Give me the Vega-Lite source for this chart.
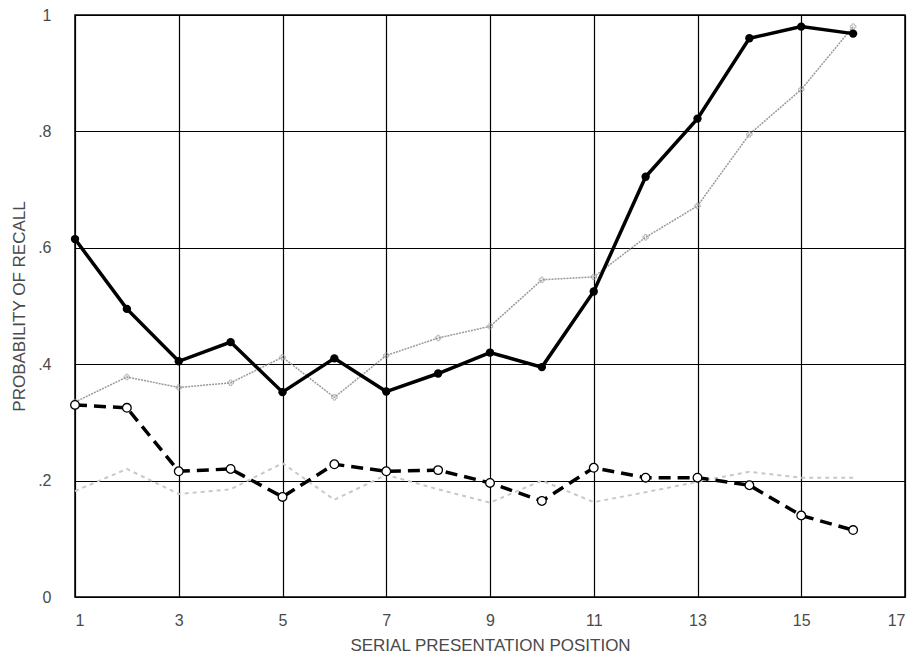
{
  "$schema": "https://vega.github.io/schema/vega-lite/v6.json",
  "width": 830,
  "height": 582,
  "autosize": "none",
  "padding": {"left": 75, "top": 15, "right": 16, "bottom": 67},
  "background": "white",
  "config": {
    "view": {"stroke": "black", "strokeWidth": 1.5},
    "axis": {
      "grid": true, "gridColor": "black", "gridOpacity": 1, "gridWidth": 1.2,
      "domain": false, "ticks": false,
      "labelFont": "Liberation Sans", "labelFontSize": 16, "labelColor": "#4a4a4a",
      "titleFont": "Liberation Sans", "titleFontSize": 17, "titleFontWeight": "normal", "titleColor": "#4a4a4a"
    }
  },
  "data": {"values": [
    {"pos":1,"s":"A","p":0.615},{"pos":2,"s":"A","p":0.495},{"pos":3,"s":"A","p":0.405},{"pos":4,"s":"A","p":0.438},
    {"pos":5,"s":"A","p":0.352},{"pos":6,"s":"A","p":0.41},{"pos":7,"s":"A","p":0.353},{"pos":8,"s":"A","p":0.384},
    {"pos":9,"s":"A","p":0.42},{"pos":10,"s":"A","p":0.395},{"pos":11,"s":"A","p":0.525},{"pos":12,"s":"A","p":0.722},
    {"pos":13,"s":"A","p":0.822},{"pos":14,"s":"A","p":0.96},{"pos":15,"s":"A","p":0.98},{"pos":16,"s":"A","p":0.968},
    {"pos":1,"s":"B","p":0.33},{"pos":2,"s":"B","p":0.325},{"pos":3,"s":"B","p":0.216},{"pos":4,"s":"B","p":0.22},
    {"pos":5,"s":"B","p":0.172},{"pos":6,"s":"B","p":0.228},{"pos":7,"s":"B","p":0.216},{"pos":8,"s":"B","p":0.218},
    {"pos":9,"s":"B","p":0.196},{"pos":10,"s":"B","p":0.165},{"pos":11,"s":"B","p":0.222},{"pos":12,"s":"B","p":0.205},
    {"pos":13,"s":"B","p":0.205},{"pos":14,"s":"B","p":0.192},{"pos":15,"s":"B","p":0.14},{"pos":16,"s":"B","p":0.115},
    {"pos":1,"s":"C","p":0.335},{"pos":2,"s":"C","p":0.378},{"pos":3,"s":"C","p":0.36},{"pos":4,"s":"C","p":0.368},
    {"pos":5,"s":"C","p":0.412},{"pos":6,"s":"C","p":0.343},{"pos":7,"s":"C","p":0.415},{"pos":8,"s":"C","p":0.445},
    {"pos":9,"s":"C","p":0.465},{"pos":10,"s":"C","p":0.545},{"pos":11,"s":"C","p":0.55},{"pos":12,"s":"C","p":0.618},
    {"pos":13,"s":"C","p":0.672},{"pos":14,"s":"C","p":0.795},{"pos":15,"s":"C","p":0.872},{"pos":16,"s":"C","p":0.98},
    {"pos":1,"s":"D","p":0.182},{"pos":2,"s":"D","p":0.22},{"pos":3,"s":"D","p":0.177},{"pos":4,"s":"D","p":0.185},
    {"pos":5,"s":"D","p":0.23},{"pos":6,"s":"D","p":0.167},{"pos":7,"s":"D","p":0.21},{"pos":8,"s":"D","p":0.185},
    {"pos":9,"s":"D","p":0.162},{"pos":10,"s":"D","p":0.2},{"pos":11,"s":"D","p":0.163},{"pos":12,"s":"D","p":0.18},
    {"pos":13,"s":"D","p":0.198},{"pos":14,"s":"D","p":0.215},{"pos":15,"s":"D","p":0.205},{"pos":16,"s":"D","p":0.205}
  ]},
  "encoding": {
    "x": {"field": "pos", "type": "quantitative",
      "scale": {"domain": [1, 17], "nice": false, "zero": false},
      "axis": {"values": [1,3,5,7,9,11,13,15,17], "labelPadding": 15, "title": "SERIAL PRESENTATION POSITION", "titlePadding": 9}},
    "y": {"field": "p", "type": "quantitative",
      "scale": {"domain": [0, 1], "nice": false},
      "axis": {"values": [0,0.2,0.4,0.6,0.8,1], "labelPadding": 24, "title": "PROBABILITY OF RECALL", "titlePadding": 9,
        "labelExpr": "datum.value == 0 ? '0' : datum.value == 1 ? '1' : replace(format(datum.value, '.1f'), '0.', '.')"}}
  },
  "layer": [
    {"transform": [{"filter": "datum.s == 'D'"}],
     "mark": {"type": "line", "color": "#c8c8c8", "strokeWidth": 2, "strokeDash": [4, 4]}},
    {"transform": [{"filter": "datum.s == 'C'"}],
     "mark": {"type": "line", "color": "#9a9a9a", "strokeWidth": 1.5, "strokeDash": [2, 1]}},
    {"transform": [{"filter": "datum.s == 'C'"}],
     "mark": {"type": "point", "shape": "cross", "size": 30, "color": "#999", "filled": false, "strokeWidth": 1}},
    {"transform": [{"filter": "datum.s == 'A'"}],
     "mark": {"type": "line", "color": "black", "strokeWidth": 3.5}},
    {"transform": [{"filter": "datum.s == 'A'"}],
     "mark": {"type": "point", "filled": true, "color": "black", "size": 70, "opacity": 1}},
    {"transform": [{"filter": "datum.s == 'B'"}],
     "mark": {"type": "line", "color": "black", "strokeWidth": 3.5, "strokeDash": [12, 7]}},
    {"transform": [{"filter": "datum.s == 'B'"}],
     "mark": {"type": "point", "filled": false, "fill": "white", "fillOpacity": 1, "stroke": "black", "strokeWidth": 1.3, "size": 75, "opacity": 1}}
  ]
}
